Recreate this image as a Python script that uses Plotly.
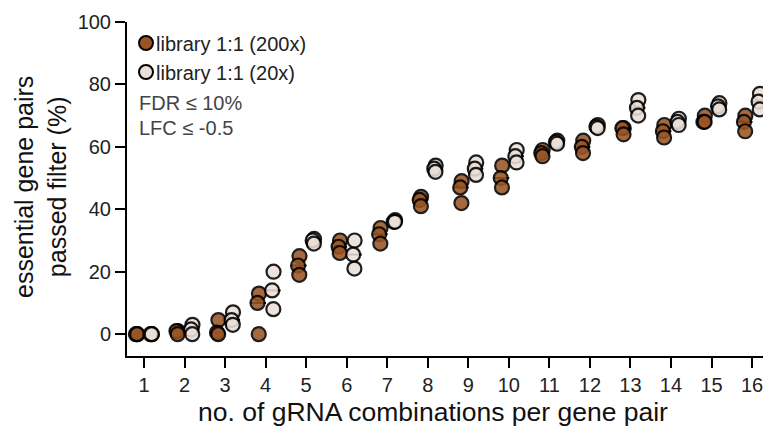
import numpy as np
import plotly.graph_objects as go

# number of gRNA combinations per gene pair
combos = list(range(1, 17))

# % essential gene pairs passing the filter, three replicates per library
lib_200x = [
    [0, 0, 0], [1, 1, 0], [4.5, 0.5, 0], [13, 10, 0],
    [25, 22, 19], [30, 28, 26], [34, 32, 29], [44, 43, 41],
    [49, 47, 42], [54, 50, 47], [59, 58, 57], [62, 60, 58],
    [66, 66, 64], [67, 65, 63], [70, 68, 68], [70, 68, 65],
]
lib_20x = [
    [0, 0, 0], [3, 1.5, 0], [7, 4.5, 3], [20, 14, 8],
    [30.5, 30, 29], [30, 25.5, 21], [36.5, 36, 36], [54, 53, 52],
    [55, 53, 51], [59, 57, 55], [62, 61.5, 61], [67, 66.5, 66],
    [75, 72.5, 70], [69, 68, 67], [74, 73, 72], [77, 74.5, 72],
]

series_names = ["library 1:1 (200x)", "library 1:1 (20x)"]
y_ticks = [0, 20, 40, 60, 80, 100]

BROWN = "#9A5524"
LIGHT = "#EBE0D8"
FONT = "Liberation Sans, Arial, sans-serif"
DODGE = 0.18
JITTER = [0.015, -0.02, 0.01]

fig = go.Figure()

for vals, col, off, name in [(lib_200x, BROWN, -DODGE, series_names[0]),
                             (lib_20x, LIGHT, DODGE, series_names[1])]:
    # median dash beneath the replicate points
    med_x = [c + off for c in combos]
    med_y = [float(np.median(v)) for v in vals]
    fig.add_trace(go.Scatter(
        x=med_x, y=med_y, mode="markers", showlegend=False, hoverinfo="skip",
        marker=dict(symbol="line-ew", size=11, line=dict(width=2, color="black")),
    ))
    xs, ys = [], []
    for c, reps in zip(combos, vals):
        for j, v in enumerate(reps):
            xs.append(c + off + JITTER[j])
            ys.append(v)
    fig.add_trace(go.Scatter(
        x=xs, y=ys, mode="markers", name=name, showlegend=False,
        marker=dict(size=14, color=col, opacity=0.88,
                    line=dict(width=2.2, color="black")),
    ))

W, H = 763, 427
L, R, T, B = 127, 0, 22, 71
pw, ph = W - L - R, H - T - B


def px_x(px):
    return (px - L) / pw


def px_y(py):
    return (H - B - py) / ph


shapes = []
annotations = []
for i, (name, col) in enumerate(zip(series_names, [BROWN, LIGHT])):
    cy = 43 + i * 29
    shapes.append(dict(
        type="circle", xref="paper", yref="paper",
        xsizemode="pixel", ysizemode="pixel",
        xanchor=px_x(146), yanchor=px_y(cy),
        x0=-7, x1=7, y0=-7, y1=7,
        fillcolor=col, line=dict(color="black", width=2),
    ))
    annotations.append(dict(
        text=name, xref="paper", yref="paper", x=px_x(154), y=px_y(cy + 1),
        xanchor="left", yanchor="middle", showarrow=False,
        font=dict(family=FONT, size=20, color="#222"),
    ))

for txt, cy in [("FDR ≤ 10%", 103), ("LFC ≤ -0.5", 128)]:
    annotations.append(dict(
        text=txt, xref="paper", yref="paper", x=px_x(137), y=px_y(cy),
        xanchor="left", yanchor="middle", showarrow=False,
        font=dict(family=FONT, size=20, color="#444"),
    ))

annotations.append(dict(
    text="essential gene pairs<br>passed filter (%)", textangle=-90,
    xref="paper", yref="paper", x=px_x(41), y=px_y(187),
    xanchor="center", yanchor="middle", showarrow=False,
    font=dict(family=FONT, size=25, color="#111"),
))
annotations.append(dict(
    text="no. of gRNA combinations per gene pair",
    xref="paper", yref="paper", x=px_x(433), y=px_y(412),
    xanchor="center", yanchor="middle", showarrow=False,
    font=dict(family=FONT, size=26.5, color="#111"),
))

fig.update_layout(
    width=W, height=H,
    margin=dict(l=L, r=R, t=T, b=B, pad=0),
    plot_bgcolor="white", paper_bgcolor="white",
    font=dict(family=FONT, size=20, color="#222"),
    shapes=shapes, annotations=annotations,
    xaxis=dict(
        range=[0.58, 16.27], tickmode="array", tickvals=combos,
        ticktext=[str(c) for c in combos],
        ticks="outside", ticklen=10, tickwidth=1.5, tickcolor="black",
        ticklabeloverflow="allow",
        showline=True, linewidth=2, linecolor="black",
        showgrid=False, zeroline=False,
        tickfont=dict(family=FONT, size=20, color="#222"),
    ),
    yaxis=dict(
        range=[-7, 100], tickmode="array", tickvals=y_ticks,
        ticks="outside", ticklen=10, tickwidth=1.5, tickcolor="black",
        showline=True, linewidth=2, linecolor="black",
        showgrid=False, zeroline=False,
        tickfont=dict(family=FONT, size=20, color="#222"),
    ),
)

fig.write_html("out.html")
